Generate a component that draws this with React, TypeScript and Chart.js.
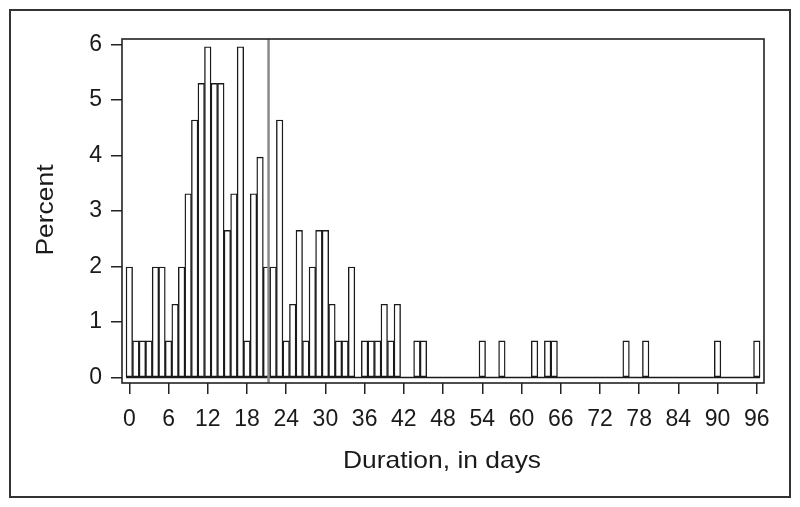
import React, { useEffect, useRef } from "react";
import { Chart, registerables } from "chart.js";

Chart.register(...registerables);

// Histogram: duration (days) -> percent of cases
const durationDays = [
  0, 1, 2, 3, 4, 5, 6, 7, 8, 9, 10, 11, 12, 13, 14, 15, 16, 17, 18, 19, 20,
  21, 22, 23, 24, 25, 26, 27, 28, 29, 30, 31, 32, 33, 34, 36, 37, 38, 39, 40,
  41, 44, 45, 54, 57, 62, 64, 65, 76, 79, 90, 96,
];
const percentValues = [
  1.99, 0.66, 0.66, 0.66, 1.99, 1.99, 0.66, 1.32, 1.99, 3.31, 4.64, 5.3, 5.96,
  5.3, 5.3, 2.65, 3.31, 5.96, 0.66, 3.31, 3.97, 1.99, 1.99, 4.64, 0.66, 1.32,
  2.65, 0.66, 1.99, 2.65, 2.65, 1.32, 0.66, 0.66, 1.99, 0.66, 0.66, 0.66, 1.32,
  0.66, 1.32, 0.66, 0.66, 0.66, 0.66, 0.66, 0.66, 0.66, 0.66, 0.66, 0.66, 0.66,
];
const xTickValues = [0, 6, 12, 18, 24, 30, 36, 42, 48, 54, 60, 66, 72, 78, 84, 90, 96];
const yTickValues = [0, 1, 2, 3, 4, 5, 6];
const medianDay = 21.3;
const xTitle = "Duration, in days";
const yTitle = "Percent";

const FONT = '"Liberation Sans", Arial, Helvetica, sans-serif';

export default function App() {
  const ref = useRef<HTMLCanvasElement | null>(null);

  useEffect(() => {
    document.body.style.margin = "0";
    const canvas = ref.current;
    if (!canvas) return;

    const decor = {
      id: "decor",
      beforeDraw(chart: any) {
        const ctx = chart.ctx;
        ctx.save();
        ctx.fillStyle = "#ffffff";
        ctx.fillRect(0, 0, chart.width, chart.height);
        ctx.strokeStyle = "#333333";
        ctx.lineWidth = 2;
        ctx.strokeRect(10, 10, 780, 487);
        ctx.restore();
      },
      afterDraw(chart: any) {
        const ctx = chart.ctx;
        const a = chart.chartArea;
        ctx.save();
        ctx.strokeStyle = "#222222";
        ctx.lineWidth = 1.6;
        ctx.strokeRect(a.left, a.top, a.right - a.left, a.bottom - a.top);
        ctx.fillStyle = "#1a1a1a";
        ctx.font = `24px ${FONT}`;
        ctx.textAlign = "center";
        ctx.textBaseline = "middle";
        ctx.save();
        ctx.translate((a.left + a.right) / 2 - 1, 461);
        ctx.scale(1.1, 1);
        ctx.fillText(xTitle, 0, 0);
        ctx.restore();
        ctx.translate(46, 210);
        ctx.rotate(-Math.PI / 2);
        ctx.scale(1.1, 1);
        ctx.fillText(yTitle, 0, 0);
        ctx.restore();
      },
    };

    const chart = new Chart(canvas, {
      type: "bar",
      data: {
        datasets: [
          {
            type: "line",
            data: [
              { x: medianDay, y: -0.1 },
              { x: medianDay, y: 6.1 },
            ],
            borderColor: "#8a8a8a",
            borderWidth: 2.5,
            pointRadius: 0,
            order: 0,
          } as any,
          {
            type: "line",
            data: [
              { x: durationDays[0] - 0.5, y: 0 },
              { x: durationDays[durationDays.length - 1] + 0.5, y: 0 },
            ],
            borderColor: "#1a1a1a",
            borderWidth: 1.5,
            pointRadius: 0,
            order: 1,
          } as any,
          {
            type: "bar",
            data: durationDays.map((d, i) => ({ x: d, y: percentValues[i] })),
            backgroundColor: "#ffffff",
            borderColor: "#1a1a1a",
            borderWidth: 1.4,
            borderSkipped: false,
            barPercentage: 1,
            categoryPercentage: 1,
            order: 2,
          } as any,
        ],
      },
      options: {
        animation: false,
        responsive: false,
        maintainAspectRatio: false,
        events: [],
        layout: { padding: { left: 0, top: 39, right: 36, bottom: 0 } },
        plugins: {
          legend: { display: false },
          tooltip: { enabled: false },
          title: { display: false },
        },
        scales: {
          x: {
            type: "linear",
            offset: false,
            min: -1.12,
            max: 97.1,
            afterBuildTicks: (s: any) => {
              s.ticks = xTickValues.map((v) => ({ value: v }));
            },
            afterFit: (s: any) => {
              s.height = 124;
            },
            ticks: {
              autoSkip: false,
              maxRotation: 0,
              minRotation: 0,
              padding: 12,
              color: "#1a1a1a",
              font: { family: FONT, size: 23 },
              callback: (v: any) => String(v),
            },
            grid: {
              offset: false,
              drawOnChartArea: false,
              drawTicks: true,
              tickLength: 11,
              color: "#222222",
              lineWidth: 1.5,
            },
            border: { display: false },
          },
          y: {
            type: "linear",
            min: -0.1,
            max: 6.1,
            afterBuildTicks: (s: any) => {
              s.ticks = yTickValues.map((v) => ({ value: v }));
            },
            afterFit: (s: any) => {
              s.width = 122;
            },
            ticks: {
              padding: 9,
              color: "#1a1a1a",
              font: { family: FONT, size: 23 },
              callback: (v: any) => String(v),
            },
            grid: {
              drawOnChartArea: false,
              drawTicks: true,
              tickLength: 11,
              color: "#222222",
              lineWidth: 1.5,
            },
            border: { display: false },
          },
        },
      } as any,
      plugins: [decor],
    });

    return () => chart.destroy();
  }, []);

  return (
    <div style={{ width: 800, height: 507, position: "relative" }}>
      <canvas ref={ref} width={800} height={507} style={{ display: "block", width: 800, height: 507 }} />
    </div>
  );
}
